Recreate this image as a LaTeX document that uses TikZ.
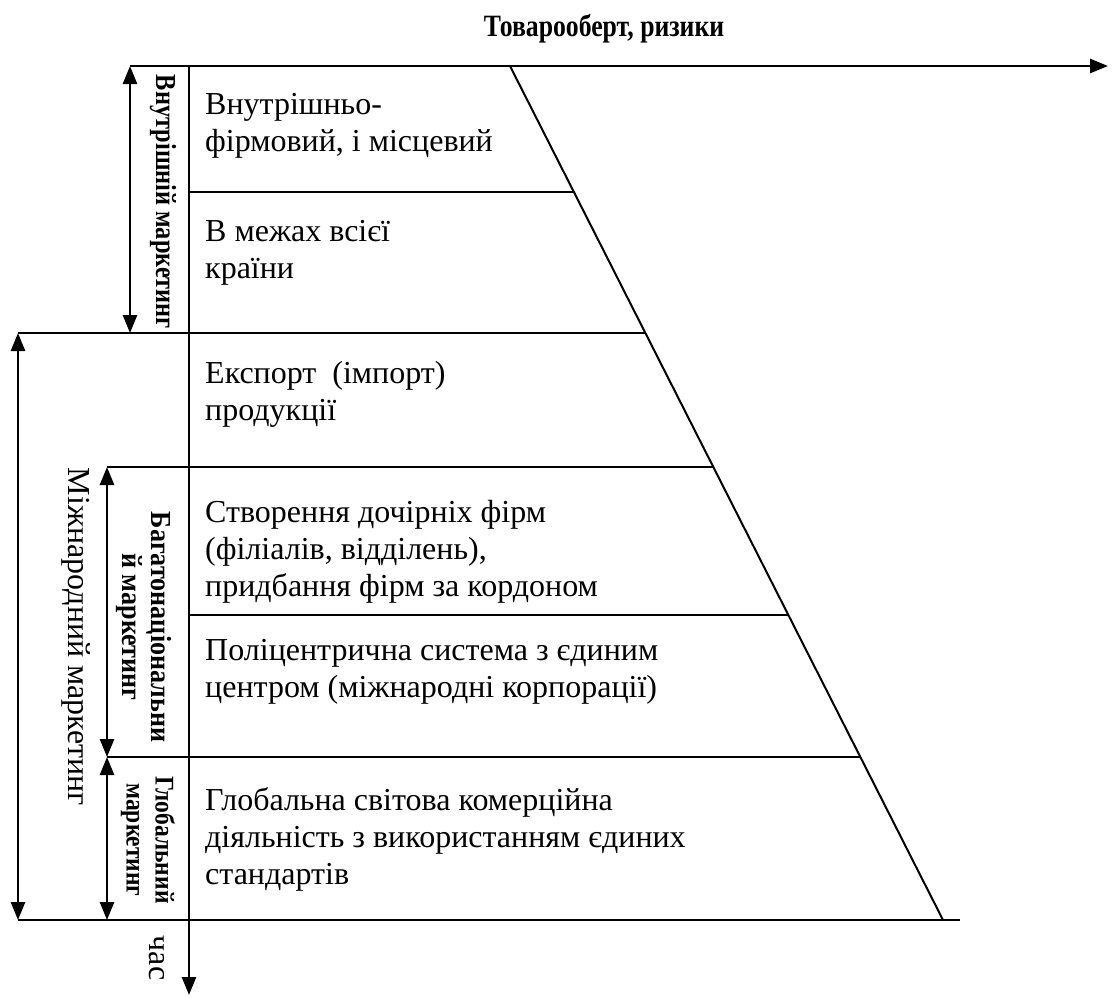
\documentclass[tikz,border=0pt]{standalone}
\usepackage{fontspec}
\usepackage{graphicx}
\setmainfont{Liberation Serif}
\usetikzlibrary{arrows.meta}
\newcommand{\narrow}[2][0.9]{\scalebox{#1}[1]{#2}}
\begin{document}
\begin{tikzpicture}[x=1pt,y=-1pt,
  tip/.tip={Triangle[width=14pt,length=18pt]},
  axis/.style={line width=2.6pt,-tip},
  span/.style={line width=2.6pt,tip-tip},
  rule/.style={line width=2pt},
  slope/.style={line width=2pt},
  boxtext/.style={anchor=base west,inner sep=0pt,font=\fontsize{32}{37}\selectfont},
  sidelabel/.style={rotate=-90,inner sep=0pt,align=center,font=\bfseries\fontsize{29}{29}\selectfont},
  plainlabel/.style={rotate=-90,inner sep=0pt,font=\fontsize{32}{37}\selectfont}]
\useasboundingbox (0,0) rectangle (1112,997);

% axes
\coordinate (o) at (189,66);
\coordinate (xend) at (1108,66);
\coordinate (ystart) at (130,66);
\coordinate (yend) at (189,995);
\draw[axis] (ystart) -- (xend);
\draw[axis] (o) -- (yend);

% slanted edge of the stages
\coordinate (s0) at (510,66);
\coordinate (s6) at (943,920);
\draw[slope] (s0) -- (s6);

% stage borders
\coordinate (l1) at (189,192);  \coordinate (r1) at (574,192);
\coordinate (l2) at (18,333);   \coordinate (r2) at (645,333);
\coordinate (l3) at (107,467);  \coordinate (r3) at (713,467);
\coordinate (l4) at (189,615);  \coordinate (r4) at (788,615);
\coordinate (l5) at (107,757);  \coordinate (r5) at (860,757);
\coordinate (l6) at (18,920);   \coordinate (r6) at (960,920);
\draw[rule] (l1) -- (r1);
\draw[rule] (l2) -- (r2);
\draw[rule] (l3) -- (r3);
\draw[rule] (l4) -- (r4);
\draw[rule] (l5) -- (r5);
\draw[rule] (l6) -- (r6);

% ranges on the left
\coordinate (a1) at (130,66);  \coordinate (a2) at (130,333);
\coordinate (b1) at (18,333);  \coordinate (b2) at (18,920);
\coordinate (c1) at (107,467); \coordinate (c2) at (107,757);
\coordinate (d1) at (107,757); \coordinate (d2) at (107,920);
\draw[span] (a1) -- (a2);
\draw[span] (b1) -- (b2);
\draw[span] (c1) -- (c2);
\draw[span] (d1) -- (d2);

% axis captions
\node[anchor=base,inner sep=0pt,font=\bfseries\fontsize{31}{33}\selectfont] (title) at (604,36)
  {\narrow[0.83]{Товарооберт, ризики}};
\node[plainlabel] (time) at (157,958) {час};

% range captions
\node[sidelabel] (inner) at (163,202) {\narrow[0.84]{Внутрішній маркетинг}};
\node[sidelabel] (multi) at (144,627) {\narrow[0.9]{Багатонаціональни}\\\narrow[0.9]{й маркетинг}};
\node[sidelabel,font=\bfseries\fontsize{27}{29}\selectfont] (global) at (148,840)
  {\narrow[0.87]{Глобальний}\\\narrow[0.87]{маркетинг}};
\node[plainlabel] (intl) at (76,637) {Міжнародний маркетинг};

% stage descriptions
\node[boxtext] (t1) at (205,114) {\vtop{\hbox{Внутрішньо-}\hbox{фірмовий, і місцевий}}};
\node[boxtext] (t2) at (205,241) {\vtop{\hbox{В межах всієї}\hbox{країни}}};
\node[boxtext] (t3) at (205,383) {\vtop{\hbox{Експорт\ \ (імпорт)}\hbox{продукції}}};
\node[boxtext] (t4) at (205,522) {\vtop{\hbox{Створення дочірніх фірм}\hbox{(філіалів, відділень),}\hbox{придбання фірм за кордоном}}};
\node[boxtext] (t5) at (205,660) {\vtop{\hbox{Поліцентрична система з єдиним}\hbox{центром (міжнародні корпорації)}}};
\node[boxtext] (t6) at (205,810) {\vtop{\hbox{Глобальна світова комерційна}\hbox{діяльність з використанням єдиних}\hbox{стандартів}}};
\end{tikzpicture}
\end{document}
